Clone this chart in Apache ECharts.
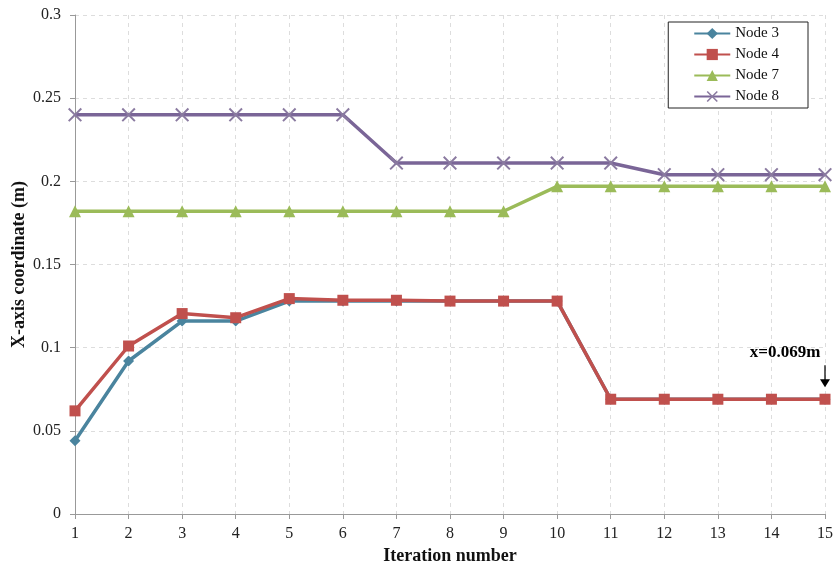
<!DOCTYPE html>
<html><head><meta charset="utf-8">
<script src="https://cdn.jsdelivr.net/npm/echarts@6/dist/echarts.min.js"></script>
<style>html,body{margin:0;padding:0;background:#fff}#c{width:840px;height:570px}</style>
</head><body><div id="c"></div>
<script>
const iterations = [1,2,3,4,5,6,7,8,9,10,11,12,13,14,15];
const node3 = [0.044,0.092,0.116,0.116,0.128,0.128,0.128,0.128,0.128,0.128,0.069,0.069,0.069,0.069,0.069];
const node4 = [0.062,0.101,0.1205,0.118,0.1295,0.1285,0.1285,0.128,0.128,0.128,0.069,0.069,0.069,0.069,0.069];
const node7 = [0.182,0.182,0.182,0.182,0.182,0.182,0.182,0.182,0.182,0.197,0.197,0.197,0.197,0.197,0.197];
const node8 = [0.24,0.24,0.24,0.24,0.24,0.24,0.211,0.211,0.211,0.211,0.211,0.204,0.204,0.204,0.204];
const seriesNames = ['Node 3','Node 4','Node 7','Node 8'];
const annotationText = 'x=0.069m';

const pair = arr => arr.map((v,i)=>[iterations[i], v]);
const serif = '"Liberation Serif","Times New Roman",serif';
const xSym = 'path://M0,1L1,0L5,4L9,0L10,1L6,5L10,9L9,10L5,6L1,10L0,9L4,5Z';
const arrowSym = 'path://M4.5,0L5.5,0L5.5,14L9,14L5,22L1,14L4.5,14Z';

const chart = echarts.init(document.getElementById('c'), null, {renderer:'canvas'});
chart.setOption({
  animation:false,
  backgroundColor:'#fff',
  grid:{left:75, right:15, top:15, bottom:56, containLabel:false, outerBoundsMode:'none'},
  legend:{
    orient:'vertical', right:32, top:22,
    data:seriesNames,
    backgroundColor:'#fff', borderColor:'#222', borderWidth:1,
    padding:[4,29,4,25], itemGap:6, itemWidth:36, itemHeight:14,
    textStyle:{fontFamily:serif, fontSize:15, color:'#111'}
  },
  xAxis:{
    type:'value', min:1, max:15, interval:1,
    name:'Iteration number', nameLocation:'middle', nameGap:32,
    nameTextStyle:{fontFamily:serif, fontSize:18, fontWeight:'bold', color:'#111'},
    axisLine:{lineStyle:{color:'#999', width:1}},
    axisTick:{show:true, length:5, lineStyle:{color:'#999'}},
    axisLabel:{fontFamily:serif, fontSize:16, color:'#222', margin:12},
    splitLine:{show:true, lineStyle:{color:'#ddd', type:[4,4]}}
  },
  yAxis:{
    type:'value', min:0, max:0.3, interval:0.05,
    name:'X-axis coordinate (m)', nameLocation:'middle', nameGap:47, nameMoveOverlap:false,
    nameTextStyle:{fontFamily:serif, fontSize:18, fontWeight:'bold', color:'#111'},
    axisLine:{show:true, lineStyle:{color:'#999', width:1}},
    axisTick:{show:true, length:5, lineStyle:{color:'#999'}},
    axisLabel:{fontFamily:serif, fontSize:16, color:'#222', margin:14},
    splitLine:{show:true, lineStyle:{color:'#ddd', type:[4,4]}}
  },
  series:[
    {name:seriesNames[0], type:'line', data:pair(node3), symbol:'diamond', symbolSize:11,
     lineStyle:{width:3.5, color:'#4a849e'}, itemStyle:{color:'#4a849e'}, z:3},
    {name:seriesNames[1], type:'line', data:pair(node4), symbol:'rect', symbolSize:11,
     lineStyle:{width:3.5, color:'#c0504d'}, itemStyle:{color:'#c0504d'}, z:4,
     markPoint:{
       symbol:arrowSym, symbolSize:[10,22], symbolOffset:[0,-23],
       itemStyle:{color:'#000'},
       label:{show:true, position:'top', distance:4, offset:[-40,0], formatter:annotationText,
              fontFamily:serif, fontSize:17, fontWeight:'bold', color:'#000'},
       data:[{coord:[iterations[14], node4[14]]}]
     }},
    {name:seriesNames[2], type:'line', data:pair(node7), symbol:'triangle', symbolSize:12,
     lineStyle:{width:3.5, color:'#9bbb59'}, itemStyle:{color:'#9bbb59'}, z:2},
    {name:seriesNames[3], type:'line', data:pair(node8), symbol:xSym, symbolSize:14,
     lineStyle:{width:3.5, color:'#7a6597'}, itemStyle:{color:'#8a7aa0'}, z:2}
  ]
});
</script></body></html>
